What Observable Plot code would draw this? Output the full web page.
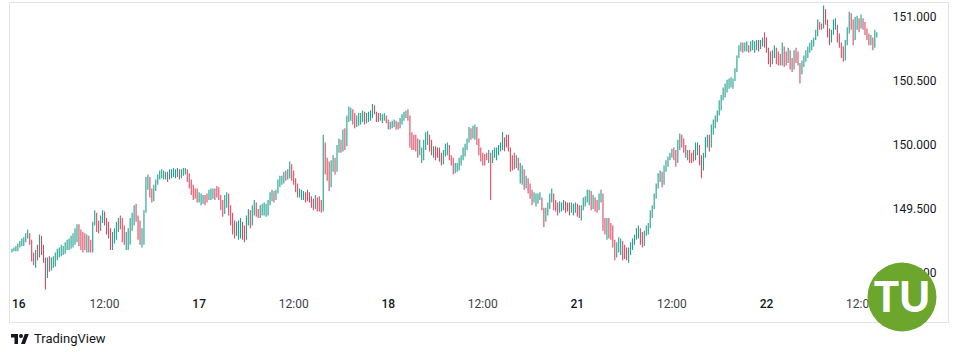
<!DOCTYPE html>
<html><head><meta charset="utf-8">
<script src="https://cdn.jsdelivr.net/npm/d3@7"></script>
<script src="https://cdn.jsdelivr.net/npm/@observablehq/plot@0.6"></script>
<style>
body{margin:0;background:#fff;font-family:Roboto,"Noto Sans",sans-serif;}
#wrap{position:relative;width:957px;height:352px;overflow:hidden;background:#fff}
#chart svg{display:block}
#logo{position:absolute;left:10px;top:331px;display:flex;align-items:center;font-size:13px;color:#131722;font-family:Roboto,sans-serif}
#logo svg{margin-right:4px}
#tu{position:absolute;left:867px;top:262px}
</style></head><body>
<div id="wrap"><div id="chart"></div>
<div id="logo"><svg width="20" height="12" viewBox="0 0 36 24"><path d="M14 22H7V9H0V2h14v20zM28 22h-8l7.5-20h8L28 22z" fill="#131722"/><circle cx="20" cy="6" r="4" fill="#131722"/></svg><span>TradingView</span></div>
<svg id="tu" width="70" height="70" viewBox="0 0 70 70"><circle cx="35" cy="35" r="34.5" fill="#6ca62c"/><text x="35" y="50" text-anchor="middle" font-family="Lato, 'DejaVu Sans', sans-serif" font-weight="900" font-size="42" fill="#fff">TU</text></svg>
</div>
<script>
const firstSlot = 1;
const open = [
149.17,149.18,149.18,149.18,149.22,149.22,149.22,149.27,149.29,149.31,
149.24,149.12,149.10,149.16,149.13,149.28,149.18,149.10,149.02,149.10,
149.05,149.07,149.07,149.15,149.14,149.14,149.16,149.16,149.23,149.20,
149.20,149.28,149.30,149.33,149.36,149.25,149.30,149.30,149.20,149.28,
149.18,149.17,149.38,149.47,149.35,149.33,149.43,149.46,149.39,149.32,
149.29,149.20,149.30,149.33,149.38,149.42,149.40,149.27,149.24,149.30,
149.33,149.41,149.45,149.51,149.42,149.29,149.25,149.33,149.47,149.72,
149.74,149.62,149.57,149.67,149.72,149.76,149.79,149.75,149.75,149.78,
149.74,149.76,149.76,149.77,149.77,149.81,149.75,149.78,149.78,149.81,
149.73,149.68,149.63,149.64,149.64,149.57,149.56,149.56,149.59,149.60,
149.60,149.59,149.59,149.64,149.66,149.66,149.59,149.52,149.47,149.58,
149.61,149.48,149.40,149.33,149.30,149.28,149.28,149.40,149.29,149.27,
149.43,149.48,149.38,149.51,149.55,149.46,149.44,149.47,149.47,149.46,
149.46,149.56,149.61,149.64,149.58,149.63,149.71,149.71,149.71,149.77,
149.74,149.79,149.85,149.75,149.71,149.65,149.61,149.59,149.59,149.62,
149.63,149.63,149.57,149.53,149.51,149.59,149.57,149.57,149.49,150.02,
149.80,149.75,149.68,149.85,149.90,149.80,149.97,150.03,149.96,150.10,
150.00,150.21,150.24,150.27,150.18,150.15,150.17,150.17,150.24,150.25,
150.18,150.20,150.20,150.26,150.30,150.26,150.20,150.19,150.19,150.19,
150.23,150.18,150.13,150.15,150.15,150.19,150.14,150.13,150.20,150.23,
150.25,150.26,150.21,150.01,150.06,150.06,149.97,149.93,149.88,149.88,
150.02,150.07,150.08,149.97,149.94,149.98,149.96,149.96,149.89,149.85,
149.93,149.99,150.00,149.90,149.85,149.79,149.81,149.81,149.88,149.91,
149.96,149.99,150.04,150.12,150.06,150.13,150.14,150.02,149.95,149.89,
149.86,149.91,149.89,149.94,149.90,149.94,149.92,149.92,149.99,150.01,
150.06,150.06,150.06,149.97,149.86,149.88,149.83,149.90,149.80,149.76,
149.80,149.68,149.74,149.64,149.60,149.55,149.54,149.54,149.60,149.59,
149.51,149.40,149.49,149.53,149.60,149.62,149.55,149.55,149.47,149.50,
149.50,149.55,149.53,149.53,149.48,149.47,149.47,149.53,149.47,149.45,
149.51,149.57,149.59,149.63,149.64,149.52,149.59,149.51,149.49,149.60,
149.62,149.37,149.32,149.40,149.30,149.28,149.22,149.13,149.18,149.18,
149.25,149.19,149.17,149.12,149.18,149.22,149.26,149.29,149.34,149.35,
149.25,149.22,149.31,149.36,149.38,149.47,149.52,149.60,149.68,149.76,
149.79,149.70,149.82,149.86,149.89,149.93,149.95,149.90,149.86,150.02,
150.07,150.00,149.96,149.92,149.95,149.92,149.92,149.89,149.95,150.00,
149.88,149.80,149.92,150.04,150.06,149.98,150.14,150.18,150.22,150.26,
150.33,150.37,150.43,150.46,150.49,150.51,150.46,150.51,150.58,150.68,
150.76,150.78,150.74,150.75,150.75,150.73,150.79,150.75,150.75,150.81,
150.75,150.80,150.82,150.78,150.74,150.66,150.64,150.71,150.76,150.66,
150.68,150.63,150.77,150.70,150.64,150.74,150.61,150.59,150.71,150.70,
150.63,150.55,150.64,150.68,150.72,150.76,150.79,150.80,150.83,150.89,
150.96,150.93,150.91,151.05,150.96,150.87,150.81,150.88,150.96,150.93,
150.83,150.78,150.70,150.67,150.80,150.90,151.00,150.93,150.82,150.97,
150.99,150.91,150.98,150.92,150.88,150.84,150.80,150.84,150.77,150.86
];
const high = [
149.19,149.20,149.21,149.23,149.25,149.27,149.28,149.31,149.34,149.31,
149.26,149.16,149.18,149.22,149.30,149.29,149.22,149.12,149.12,149.13,
149.12,149.13,149.16,149.19,149.20,149.22,149.21,149.24,149.26,149.27,
149.29,149.31,149.35,149.38,149.38,149.34,149.32,149.31,149.30,149.29,
149.26,149.40,149.49,149.47,149.41,149.45,149.49,149.48,149.43,149.40,
149.35,149.32,149.35,149.40,149.43,149.45,149.43,149.37,149.32,149.35,
149.43,149.47,149.53,149.54,149.45,149.41,149.35,149.49,149.75,149.77,
149.75,149.66,149.69,149.73,149.77,149.80,149.81,149.80,149.79,149.79,
149.81,149.81,149.82,149.81,149.82,149.81,149.81,149.82,149.82,149.81,
149.78,149.73,149.69,149.66,149.66,149.63,149.62,149.61,149.61,149.62,
149.65,149.66,149.66,149.66,149.68,149.67,149.61,149.57,149.61,149.63,
149.62,149.53,149.47,149.41,149.40,149.41,149.43,149.40,149.37,149.45,
149.50,149.49,149.53,149.57,149.55,149.50,149.53,149.54,149.55,149.54,
149.57,149.63,149.65,149.64,149.65,149.73,149.76,149.76,149.79,149.80,
149.81,149.87,149.85,149.80,149.74,149.70,149.66,149.65,149.64,149.63,
149.65,149.63,149.60,149.58,149.61,149.59,149.60,149.57,150.08,150.02,
149.90,149.87,149.88,149.92,149.90,150.00,150.05,150.04,150.12,150.13,
150.23,150.30,150.29,150.28,150.25,150.23,150.25,150.25,150.27,150.26,
150.25,150.26,150.27,150.32,150.31,150.26,150.25,150.25,150.24,150.25,
150.23,150.20,150.18,150.19,150.20,150.19,150.18,150.21,150.24,150.26,
150.27,150.28,150.23,150.10,150.08,150.08,150.05,150.04,149.98,150.04,
150.10,150.11,150.08,150.04,149.99,149.99,149.98,149.98,149.94,149.96,
150.01,150.02,150.00,149.92,149.90,149.86,149.86,149.90,149.92,149.98,
150.01,150.05,150.14,150.13,150.15,150.16,150.14,150.05,149.98,149.94,
149.93,149.94,149.96,149.94,149.96,149.98,149.98,150.00,150.02,150.10,
150.06,150.08,150.08,149.98,149.92,149.94,149.92,149.90,149.86,149.84,
149.81,149.76,149.74,149.70,149.65,149.63,149.62,149.62,149.63,149.59,
149.51,149.51,149.55,149.62,149.66,149.62,149.57,149.55,149.56,149.55,
149.57,149.56,149.55,149.55,149.55,149.54,149.55,149.54,149.53,149.53,
149.59,149.60,149.65,149.65,149.64,149.61,149.59,149.57,149.62,149.65,
149.62,149.43,149.43,149.43,149.39,149.37,149.26,149.24,149.28,149.27,
149.25,149.22,149.20,149.20,149.24,149.27,149.30,149.35,149.37,149.35,
149.32,149.33,149.37,149.39,149.49,149.53,149.62,149.70,149.78,149.80,
149.79,149.84,149.88,149.91,149.94,149.97,149.98,149.96,150.04,150.09,
150.08,150.05,150.00,149.96,149.96,149.94,149.96,150.02,150.02,150.00,
149.92,149.94,150.06,150.08,150.08,150.16,150.20,150.23,150.27,150.35,
150.39,150.45,150.48,150.51,150.52,150.53,150.52,150.60,150.70,150.78,
150.80,150.80,150.80,150.81,150.78,150.81,150.82,150.81,150.82,150.82,
150.82,150.84,150.88,150.84,150.76,150.73,150.74,150.78,150.76,150.73,
150.71,150.80,150.77,150.73,150.76,150.74,150.68,150.74,150.76,150.73,
150.64,150.66,150.70,150.74,150.77,150.80,150.82,150.84,150.90,150.98,
150.96,150.95,151.09,151.06,150.98,150.91,150.90,150.98,150.99,150.94,
150.87,150.80,150.77,150.82,150.92,151.04,151.03,150.98,151.00,151.01,
150.99,151.02,150.99,150.96,150.91,150.87,150.86,150.84,150.90,150.88
];
const low = [
149.16,149.17,149.17,149.17,149.20,149.21,149.21,149.24,149.27,149.22,
149.09,149.06,149.04,149.10,149.12,149.14,149.08,148.87,148.96,149.01,
149.02,149.04,149.05,149.10,149.12,149.13,149.14,149.15,149.18,149.18,
149.19,149.20,149.22,149.24,149.21,149.18,149.16,149.18,149.16,149.16,
149.16,149.16,149.37,149.32,149.31,149.33,149.39,149.37,149.30,149.27,
149.18,149.18,149.23,149.26,149.32,149.34,149.24,149.22,149.18,149.18,
149.22,149.33,149.37,149.40,149.26,149.22,149.20,149.22,149.47,149.65,
149.59,149.55,149.56,149.64,149.69,149.73,149.74,149.73,149.73,149.71,
149.73,149.74,149.75,149.74,149.75,149.73,149.74,149.76,149.77,149.71,
149.66,149.61,149.57,149.58,149.55,149.55,149.53,149.54,149.53,149.55,
149.57,149.57,149.58,149.57,149.59,149.57,149.49,149.44,149.46,149.51,
149.45,149.37,149.30,149.27,149.29,149.26,149.27,149.26,149.24,149.26,
149.37,149.35,149.37,149.45,149.44,149.43,149.43,149.45,149.45,149.44,
149.45,149.53,149.56,149.55,149.57,149.62,149.67,149.69,149.70,149.72,
149.73,149.74,149.72,149.69,149.63,149.59,149.59,149.57,149.57,149.55,
149.56,149.55,149.51,149.49,149.50,149.48,149.48,149.47,149.48,149.77,
149.72,149.64,149.67,149.79,149.77,149.79,149.94,149.94,149.95,149.96,
149.99,150.18,150.19,150.16,150.13,150.14,150.15,150.16,150.18,150.16,
150.17,150.18,150.19,150.21,150.24,150.18,150.18,150.19,150.17,150.19,
150.17,150.12,150.12,150.13,150.14,150.12,150.12,150.13,150.16,150.19,
150.21,150.19,149.98,149.96,149.96,149.95,149.90,149.92,149.86,149.88,
149.96,150.00,149.95,149.92,149.90,149.88,149.90,149.87,149.84,149.85,
149.91,149.92,149.88,149.84,149.77,149.78,149.79,149.80,149.84,149.88,
149.91,149.96,150.02,150.04,150.05,150.04,150.00,149.92,149.87,149.84,
149.84,149.88,149.86,149.57,149.86,149.90,149.88,149.92,149.95,149.96,
149.95,149.98,149.95,149.79,149.80,149.81,149.82,149.80,149.70,149.69,
149.65,149.66,149.62,149.58,149.53,149.55,149.52,149.54,149.57,149.49,
149.36,149.40,149.45,149.50,149.55,149.49,149.48,149.45,149.47,149.48,
149.49,149.47,149.48,149.45,149.47,149.45,149.47,149.44,149.43,149.41,
149.49,149.52,149.55,149.53,149.49,149.50,149.48,149.47,149.49,149.55,
149.33,149.30,149.26,149.27,149.26,149.20,149.10,149.12,149.16,149.14,
149.10,149.11,149.10,149.08,149.14,149.18,149.22,149.26,149.27,149.22,
149.20,149.21,149.29,149.30,149.35,149.43,149.50,149.58,149.66,149.71,
149.67,149.69,149.79,149.83,149.88,149.90,149.88,149.83,149.86,149.96,
149.98,149.94,149.90,149.88,149.86,149.86,149.87,149.88,149.92,149.84,
149.74,149.80,149.90,149.98,149.95,149.98,150.08,150.13,150.18,150.23,
150.27,150.35,150.37,150.41,150.44,150.45,150.44,150.50,150.57,150.68,
150.73,150.72,150.73,150.73,150.72,150.73,150.74,150.72,150.74,150.73,
150.75,150.77,150.76,150.72,150.63,150.61,150.63,150.68,150.63,150.62,
150.62,150.62,150.61,150.62,150.64,150.59,150.57,150.59,150.64,150.62,
150.48,150.55,150.61,150.65,150.68,150.72,150.74,150.77,150.82,150.85,
150.90,150.90,150.91,150.94,150.84,150.78,150.80,150.86,150.90,150.80,
150.76,150.68,150.65,150.66,150.78,150.87,150.90,150.78,150.82,150.90,
150.88,150.91,150.90,150.86,150.82,150.78,150.78,150.74,150.76,150.84
];
const close = [
149.18,149.19,149.19,149.22,149.24,149.24,149.27,149.29,149.31,149.24,
149.12,149.10,149.16,149.13,149.28,149.18,149.10,149.02,149.10,149.05,
149.10,149.10,149.15,149.18,149.18,149.20,149.20,149.23,149.25,149.25,
149.28,149.30,149.33,149.36,149.25,149.20,149.20,149.20,149.28,149.18,
149.17,149.38,149.47,149.35,149.33,149.43,149.46,149.39,149.32,149.29,
149.20,149.30,149.33,149.38,149.42,149.40,149.27,149.24,149.30,149.33,
149.41,149.45,149.51,149.42,149.29,149.25,149.33,149.47,149.72,149.74,
149.62,149.57,149.67,149.72,149.76,149.79,149.80,149.80,149.78,149.74,
149.80,149.80,149.80,149.80,149.81,149.75,149.80,149.80,149.81,149.73,
149.68,149.63,149.60,149.60,149.57,149.61,149.61,149.59,149.55,149.55,
149.64,149.64,149.64,149.60,149.60,149.59,149.52,149.47,149.58,149.61,
149.48,149.40,149.33,149.30,149.37,149.37,149.40,149.29,149.27,149.43,
149.48,149.38,149.51,149.55,149.46,149.44,149.52,149.52,149.54,149.54,
149.56,149.61,149.64,149.58,149.63,149.71,149.74,149.74,149.77,149.74,
149.79,149.85,149.75,149.71,149.65,149.61,149.64,149.64,149.62,149.57,
149.57,149.57,149.53,149.51,149.59,149.50,149.50,149.49,150.02,149.80,
149.75,149.68,149.85,149.90,149.80,149.97,150.03,149.96,150.10,150.00,
150.21,150.28,150.27,150.18,150.15,150.21,150.21,150.24,150.25,150.18,
150.23,150.23,150.26,150.30,150.26,150.20,150.19,150.24,150.24,150.23,
150.18,150.13,150.17,150.17,150.19,150.14,150.13,150.20,150.23,150.25,
150.26,150.21,150.01,149.99,149.99,149.97,149.93,150.02,149.98,150.02,
150.07,150.09,149.97,149.94,149.98,149.90,149.90,149.89,149.85,149.93,
149.99,150.00,149.90,149.85,149.79,149.84,149.84,149.88,149.91,149.96,
149.99,150.04,150.12,150.06,150.13,150.14,150.02,149.95,149.89,149.86,
149.85,149.89,149.94,149.90,149.94,149.97,149.97,149.99,150.01,150.09,
149.98,149.98,149.97,149.82,149.83,149.83,149.90,149.85,149.84,149.82,
149.68,149.74,149.64,149.60,149.55,149.61,149.61,149.60,149.62,149.51,
149.40,149.49,149.53,149.60,149.62,149.51,149.51,149.47,149.54,149.54,
149.55,149.49,149.49,149.48,149.53,149.53,149.53,149.47,149.45,149.51,
149.57,149.59,149.63,149.64,149.52,149.59,149.51,149.49,149.60,149.63,
149.37,149.32,149.40,149.30,149.28,149.22,149.13,149.22,149.22,149.25,
149.13,149.13,149.12,149.18,149.22,149.26,149.29,149.34,149.35,149.25,
149.22,149.31,149.36,149.38,149.47,149.52,149.60,149.68,149.76,149.79,
149.70,149.82,149.86,149.89,149.93,149.95,149.90,149.86,150.02,150.07,
150.00,149.96,149.92,149.95,149.88,149.88,149.89,150.00,150.01,149.88,
149.80,149.92,150.04,150.06,149.98,150.14,150.18,150.22,150.26,150.33,
150.37,150.43,150.46,150.49,150.51,150.52,150.51,150.58,150.68,150.76,
150.78,150.74,150.78,150.78,150.73,150.79,150.80,150.80,150.81,150.75,
150.80,150.82,150.78,150.74,150.66,150.64,150.71,150.76,150.66,150.64,
150.63,150.77,150.64,150.64,150.74,150.61,150.59,150.71,150.66,150.63,
150.55,150.64,150.68,150.72,150.76,150.79,150.80,150.83,150.89,150.96,
150.91,150.91,151.05,150.96,150.87,150.81,150.88,150.96,150.97,150.83,
150.78,150.70,150.67,150.80,150.90,151.00,150.93,150.82,150.97,150.99,
150.91,150.98,150.92,150.88,150.84,150.80,150.84,150.77,150.88,150.87
];
// 15-minute slots from Nov 16 00:00 (weekend skipped)
const xTickSlots = [0, 48, 96, 144, 192, 240, 288, 336, 384, 432];
const xTickLabels = ["16", "12:00", "17", "12:00", "18", "12:00", "21", "12:00", "22", "12:00"];
const yTicks = [149.0, 149.5, 150.0, 150.5, 151.0];

const bars = open.map((o, i) => ({slot: firstSlot + i, open: o, high: high[i], low: low[i], close: close[i]}));
const ticks = xTickSlots.map((s, i) => ({slot: s, label: xTickLabels[i]}));
const upColor = "#22a08e", downColor = "#d84b63";
const font = "Roboto, 'Noto Sans', sans-serif";

const chart = Plot.plot({
  width: 957, height: 325,
  marginLeft: 9, marginRight: 9, marginTop: 2, marginBottom: 3,
  x: {domain: [-0.254, 476.4], axis: null},
  y: {domain: [148.617, 151.117], axis: null},
  style: {fontFamily: font, fontSize: "12px", background: "#fff", overflow: "visible"},
  marks: [
    Plot.frame({stroke: "#e0e3eb"}),
    Plot.ruleX(bars, {x: "slot", y1: "low", y2: "high", strokeWidth: 1.1,
      stroke: d => d.close >= d.open ? upColor : downColor}),
    Plot.text(yTicks, {y: d => d, text: d => d.toFixed(3), frameAnchor: "right",
      textAnchor: "end", dx: -12, fill: "#131722", fontSize: 12}),
    Plot.text(ticks.filter((t, i) => i > 0 && t.label.includes(":")), {x: "slot", text: "label",
      frameAnchor: "bottom", dy: -14.5, fill: "#3b3f4a", fontSize: 12}),
    Plot.text(ticks.filter((t, i) => i > 0 && !t.label.includes(":")), {x: "slot", text: "label",
      frameAnchor: "bottom", dy: -14.5, fill: "#131722", fontSize: 12, fontWeight: 500}),
    Plot.text(ticks.filter((t, i) => i === 0), {x: "slot", text: "label", textAnchor: "start", dx: 2,
      frameAnchor: "bottom", dy: -14.5, fill: "#131722", fontSize: 12, fontWeight: 500})
  ]
});
document.getElementById("chart").appendChild(chart);
</script>
</body></html>
